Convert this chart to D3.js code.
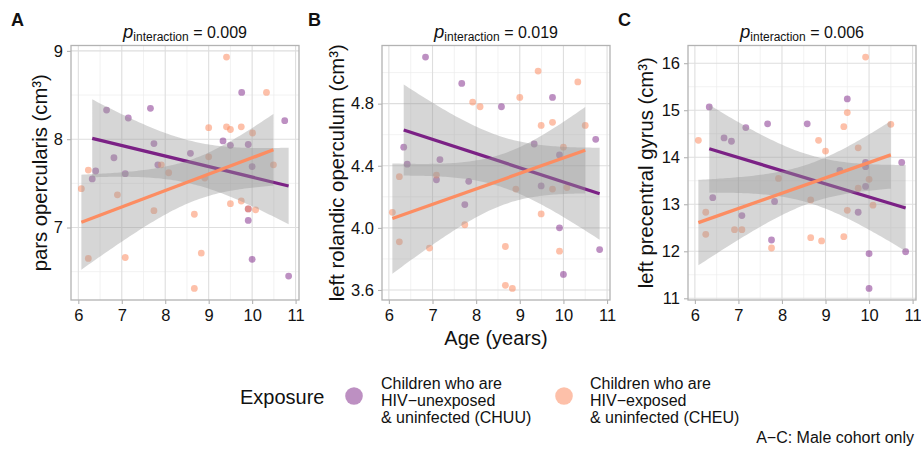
<!DOCTYPE html>
<html>
<head>
<meta charset="utf-8">
<script src="https://cdn.jsdelivr.net/npm/d3@7"></script>
<style>
  body { margin: 0; background: #fff; }
  text { font-family: "Liberation Sans", Arial, sans-serif; fill: #111; }
</style>
</head>
<body>
<script>
var w = 921, h = 451;

// ---- data: [age, volume] per exposure group ----
// A: pars opercularis
var ptsA_CHUU = [[6.65, 8.33], [7.66, 8.35], [7.15, 8.24], [7.74, 7.95], [6.82, 7.79], [6.40, 7.64], [6.32, 7.55],
  [7.08, 7.61], [7.83, 7.71], [8.58, 7.84], [9.33, 7.98], [9.50, 7.93], [9.76, 8.53], [9.91, 7.94], [10.0, 7.69],
  [9.91, 7.21], [9.91, 7.08], [10.0, 6.64], [10.75, 8.21], [10.84, 6.45]];
var ptsA_CHEU = [[6.07, 7.44], [6.23, 7.65], [6.23, 6.65], [6.90, 7.37], [7.08, 6.66], [7.74, 7.19], [7.91, 7.71],
  [8.08, 7.62], [8.67, 7.15], [8.67, 6.31], [8.83, 6.71], [8.91, 7.56], [9.0, 8.13], [9.0, 7.80], [9.41, 8.93],
  [9.41, 8.14], [9.50, 8.11], [9.50, 7.27], [9.75, 8.14], [9.75, 7.30], [10.01, 8.07], [10.08, 7.20],
  [10.33, 8.53], [10.49, 7.71], [9.91, 7.21]];
// B: left rolandic operculum
var ptsB_CHUU = [[6.84, 5.10], [7.67, 4.93], [6.34, 4.52], [6.42, 4.41], [7.17, 4.44], [7.09, 4.31], [7.83, 4.30],
  [7.74, 4.15], [8.58, 4.78], [9.33, 4.54], [9.75, 4.84], [9.91, 4.47], [9.49, 4.27], [9.91, 4.00], [10.0, 3.70],
  [10.74, 4.57], [10.83, 3.86]];
var ptsB_CHEU = [[6.08, 4.10], [6.24, 4.33], [6.24, 3.91], [6.93, 3.87], [7.09, 4.34], [7.74, 4.02], [7.92, 4.81],
  [8.09, 4.78], [8.67, 3.88], [8.67, 3.63], [8.83, 3.61], [8.91, 4.25], [9.0, 4.84], [9.42, 5.01], [9.49, 4.66],
  [9.49, 4.09], [9.75, 4.68], [9.75, 4.25], [10.0, 4.52], [9.91, 3.85], [10.08, 4.26], [10.33, 4.94], [10.50, 4.66]];
// C: left precentral gyrus
var ptsC_CHUU = [[6.33, 15.07], [6.67, 14.41], [6.84, 14.34], [7.17, 14.63], [6.41, 13.14], [7.08, 12.76],
  [7.67, 14.71], [7.83, 13.06], [7.76, 12.24], [8.58, 14.71], [9.33, 13.72], [9.50, 15.24], [9.75, 12.83],
  [9.92, 13.89], [9.92, 13.80], [9.92, 13.38], [10.0, 11.95], [10.0, 11.21], [10.75, 13.89], [10.84, 11.99]];
var ptsC_CHEU = [[6.08, 14.36], [6.25, 12.83], [6.25, 12.36], [6.91, 12.46], [7.08, 12.46], [7.76, 12.07],
  [7.92, 13.55], [8.66, 13.09], [8.66, 12.29], [8.84, 14.36], [8.91, 12.22], [9.0, 14.13], [9.42, 14.65],
  [9.42, 12.31], [9.50, 14.95], [9.50, 12.87], [9.75, 14.20], [9.75, 13.34], [9.92, 16.13], [10.0, 13.53],
  [10.09, 12.98], [10.50, 14.70]];

// fitted line ends [[age, vol], [age, vol]] and CI half-width at each end
var fitA_CHUU = [[6.32, 8.01], [10.84, 7.47]], ciA_CHUU = [0.435, 0.44];
var fitA_CHEU = [[6.07, 7.06], [10.49, 7.88]], ciA_CHEU = [0.54, 0.405];
var fitB_CHUU = [[6.34, 4.63], [10.83, 4.22]], ciB_CHUU = [0.305, 0.285];
var fitB_CHEU = [[6.08, 4.06], [10.50, 4.50]], ciB_CHEU = [0.36, 0.275];
var fitC_CHUU = [[6.33, 14.18], [10.84, 12.92]], ciC_CHUU = [0.90, 0.95];
var fitC_CHEU = [[6.08, 12.61], [10.50, 14.05]], ciC_CHEU = [0.92, 0.71];

var panelLetters = ["A", "B", "C"];
var pValues = ["0.009", "0.019", "0.006"];
var yTitles = ["pars opercularis (cm\u00B3)", "left rolandic operculum (cm\u00B3)", "left precentral gyrus (cm\u00B3)"];
var xTicks = [6, 7, 8, 9, 10, 11];
var yTicksA = [7, 8, 9], yTicksB = [3.6, 4.0, 4.4, 4.8], yTicksC = [11, 12, 13, 14, 15, 16];
var yMinorA = [6.5, 7.5, 8.5], yMinorB = [3.8, 4.2, 4.6, 5.0], yMinorC = [11.5, 12.5, 13.5, 14.5, 15.5];
var groupNames = ["Children who are|HIV\u2212unexposed|& uninfected (CHUU)", "Children who are|HIV\u2212exposed|& uninfected (CHEU)"];
var groupColors = ["#7b2185", "#fc8d62"];
var pointAlpha = [0.5, 0.55];

var panels = [
  { groups: [ptsA_CHUU, ptsA_CHEU], fits: [fitA_CHUU, fitA_CHEU], cis: [ciA_CHUU, ciA_CHEU], ticks: yTicksA, minor: yMinorA,
    fmt: d3.format("d"), left: 71, titleX: 40, letterX: 11 },
  { groups: [ptsB_CHUU, ptsB_CHEU], fits: [fitB_CHUU, fitB_CHEU], cis: [ciB_CHUU, ciB_CHEU], ticks: yTicksB, minor: yMinorB,
    fmt: d3.format(".1f"), left: 382, titleX: 337, letterX: 308 },
  { groups: [ptsC_CHUU, ptsC_CHEU], fits: [fitC_CHUU, fitC_CHEU], cis: [ciC_CHUU, ciC_CHEU], ticks: yTicksC, minor: yMinorC,
    fmt: d3.format("d"), left: 688, titleX: 646, letterX: 618 }
];
var pw = 228, plotTop = 45.5, plotBottom = 300;

var svg = d3.select("body").append("svg").attr("width", w).attr("height", h);

// ggplot-like 5% expansion
function expand(ext) {
  var d = (ext[1] - ext[0]) * 0.05;
  return [ext[0] - d, ext[1] + d];
}

panels.forEach(function(p, i) {
  var all = p.groups[0].concat(p.groups[1]);
  var x = d3.scaleLinear().domain(expand(d3.extent(all, function(d) { return d[0]; }))).range([p.left, p.left + pw]);
  var y = d3.scaleLinear().domain(expand(d3.extent(all, function(d) { return d[1]; }))).range([plotBottom, plotTop]);
  var g = svg.append("g");

  // grid
  var xMinor = xTicks.slice(0, -1).map(function(t) { return t + 0.5; }).concat([5.5]);
  g.selectAll(".vmin").data(xMinor.filter(function(t) { return x(t) > p.left && x(t) < p.left + pw; }))
    .join("line").attr("x1", x).attr("x2", x).attr("y1", plotTop).attr("y2", plotBottom)
    .attr("stroke", "#ececec").attr("stroke-width", 0.7);
  g.selectAll(".hmin").data(p.minor.filter(function(t) { return y(t) > plotTop && y(t) < plotBottom; }))
    .join("line").attr("y1", y).attr("y2", y).attr("x1", p.left).attr("x2", p.left + pw)
    .attr("stroke", "#ececec").attr("stroke-width", 0.7);
  g.selectAll(".vmaj").data(xTicks).join("line")
    .attr("x1", x).attr("x2", x).attr("y1", plotTop).attr("y2", plotBottom)
    .attr("stroke", "#dedede").attr("stroke-width", 1.1);
  g.selectAll(".hmaj").data(p.ticks).join("line")
    .attr("y1", y).attr("y2", y).attr("x1", p.left).attr("x2", p.left + pw)
    .attr("stroke", "#dedede").attr("stroke-width", 1.1);

  // points
  [0, 1].forEach(function(k) {
    g.append("g").selectAll("circle").data(p.groups[k]).join("circle")
      .attr("cx", function(d) { return x(d[0]); })
      .attr("cy", function(d) { return y(d[1]); })
      .attr("r", 3.4)
      .attr("fill", groupColors[k])
      .attr("fill-opacity", pointAlpha[k]);
  });

  // smooth: ribbon then line, per group
  [0, 1].forEach(function(k) {
    var pts = p.groups[k], fit = p.fits[k], ci = p.cis[k];
    var n = pts.length, xbar = d3.mean(pts, function(d) { return d[0]; });
    var sxx = d3.sum(pts, function(d) { return (d[0] - xbar) * (d[0] - xbar); });
    var f = function(a) { return Math.sqrt(1 / n + (a - xbar) * (a - xbar) / sxx); };
    var kk = (ci[0] / f(fit[0][0]) + ci[1] / f(fit[1][0])) / 2;
    var line = d3.scaleLinear().domain([fit[0][0], fit[1][0]]).range([fit[0][1], fit[1][1]]);
    var xs = d3.range(0, 81).map(function(j) { return fit[0][0] + (fit[1][0] - fit[0][0]) * j / 80; });
    var area = d3.area()
      .x(function(a) { return x(a); })
      .y0(function(a) { return y(line(a) - kk * f(a)); })
      .y1(function(a) { return y(line(a) + kk * f(a)); });
    g.append("path").attr("d", area(xs)).attr("fill", "#999999").attr("fill-opacity", 0.4);
    g.append("line")
      .attr("x1", x(fit[0][0])).attr("y1", y(fit[0][1]))
      .attr("x2", x(fit[1][0])).attr("y2", y(fit[1][1]))
      .attr("stroke", groupColors[k]).attr("stroke-width", 3.3);
  });

  // border
  g.append("rect").attr("x", p.left).attr("y", plotTop).attr("width", pw).attr("height", plotBottom - plotTop)
    .attr("fill", "none").attr("stroke", "#b3b3b3").attr("stroke-width", 1.3);

  // axes
  var xAxis = g.append("g").attr("transform", "translate(0," + plotBottom + ")")
    .call(d3.axisBottom(x).tickValues(xTicks).tickSize(4).tickPadding(5).tickFormat(d3.format("d")));
  var yAxis = g.append("g").attr("transform", "translate(" + p.left + ",0)")
    .call(d3.axisLeft(y).tickValues(p.ticks).tickSize(4).tickPadding(4).tickFormat(p.fmt));
  [xAxis, yAxis].forEach(function(ax) {
    ax.select(".domain").remove();
    ax.selectAll(".tick line").attr("stroke", "#b3b3b3").attr("stroke-width", 1.1);
    ax.selectAll(".tick text").attr("font-size", 16.5).attr("fill", "#111")
      .attr("font-family", "Liberation Sans, Arial, sans-serif");
  });

  // y title
  svg.append("text")
    .attr("transform", "translate(" + p.titleX + "," + ((plotTop + plotBottom) / 2) + ") rotate(-90)")
    .attr("text-anchor", "middle").attr("dy", "0.35em")
    .attr("font-size", 20.3)
    .text(yTitles[i]);

  // title p_interaction
  var t = svg.append("text").attr("x", p.left + pw / 2).attr("y", 38).attr("text-anchor", "middle");
  t.append("tspan").attr("font-style", "italic").attr("font-size", 18.5).text("p");
  t.append("tspan").attr("font-size", 12).attr("dy", 3).text("interaction");
  t.append("tspan").attr("font-size", 16).attr("dy", -3).text(" = " + pValues[i]);

  // panel letter
  svg.append("text").attr("x", p.letterX).attr("y", 25.5)
    .attr("font-size", 18).attr("font-weight", "bold").text(panelLetters[i]);
});

// x title (middle panel only)
svg.append("text").attr("x", 382 + pw / 2).attr("y", 345).attr("text-anchor", "middle")
  .attr("font-size", 20).text("Age (years)");

// legend
svg.append("text").attr("x", 240).attr("y", 404).attr("font-size", 20).text("Exposure");
var legX = [354, 564];
groupNames.forEach(function(name, k) {
  svg.append("circle").attr("cx", legX[k]).attr("cy", 396).attr("r", 8.8)
    .attr("fill", groupColors[k]).attr("fill-opacity", pointAlpha[k]);
  var lt = svg.append("text").attr("font-size", 16);
  name.split("|").forEach(function(s, j) {
    lt.append("tspan").attr("x", [381, 590][k]).attr("y", 389 + j * 17).text(s);
  });
});

svg.append("text").attr("x", 914).attr("y", 443).attr("text-anchor", "end")
  .attr("font-size", 16).text("A\u2212C: Male cohort only");
</script>
</body>
</html>
